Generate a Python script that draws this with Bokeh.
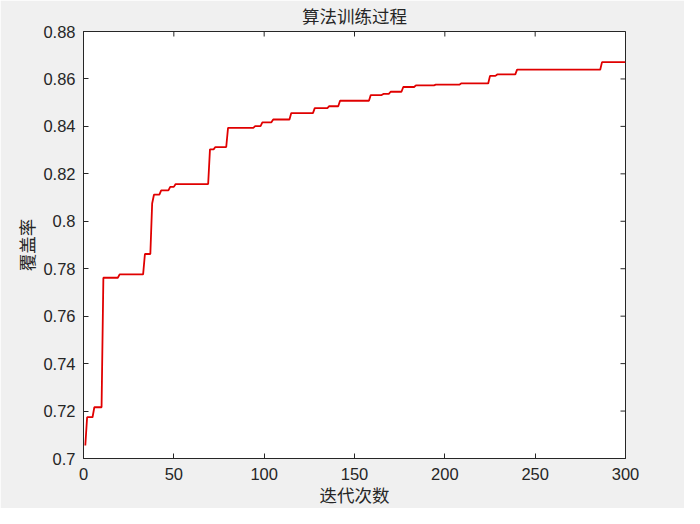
import math
from bokeh.plotting import figure
from bokeh.models import FixedTicker, Range1d, ColumnDataSource
from bokeh.embed import file_html
from bokeh.resources import INLINE

# ---- data ----
change_iters = [1, 2, 6, 11, 20, 34, 38, 39, 43, 48, 51, 70, 73, 80, 95, 99, 105,
                115, 128, 136, 142, 159, 166, 170, 177, 184, 195, 209, 225, 229,
                240, 287]
coverage = [0.7055, 0.7174, 0.7216, 0.7762, 0.7776, 0.7862, 0.8075, 0.8112, 0.8130,
            0.8145, 0.8157, 0.8303, 0.8313, 0.8394, 0.8401, 0.8417, 0.8429,
            0.8456, 0.8477, 0.8485, 0.8508, 0.8532, 0.8537, 0.8546, 0.8566,
            0.8573, 0.8576, 0.8581, 0.8613, 0.8619, 0.8639, 0.8671]
last_iter = 300

x_ticks = [0, 50, 100, 150, 200, 250, 300]
y_ticks = [0.70, 0.72, 0.74, 0.76, 0.78, 0.80, 0.82, 0.84, 0.86, 0.88]
y_tick_labels = ["0.7", "0.72", "0.74", "0.76", "0.78", "0.8", "0.82", "0.84", "0.86", "0.88"]

title_text = "算法训练过程"
x_label = "迭代次数"
y_label = "覆盖率"

X0, X1 = 0, 300
Y0, Y1 = 0.7, 0.88

# polyline vertices: each new value is reached one iteration after the previous one
xs, ys = [change_iters[0]], [coverage[0]]
for i in range(1, len(change_iters)):
    xs.append(change_iters[i] - 1)
    ys.append(coverage[i - 1])
    xs.append(change_iters[i])
    ys.append(coverage[i])
xs.append(last_iter)
ys.append(coverage[-1])
src = ColumnDataSource(dict(x=xs, y=ys))

TXT = "#262626"
CJK = "'Liberation Sans', 'Noto Sans CJK SC'"
NUM = "Liberation Sans"

p = figure(width=684, height=508, output_backend="svg", toolbar_location=None,
           x_range=Range1d(X0, X1), y_range=Range1d(Y0, Y1),
           min_border_left=83, min_border_right=59, min_border_top=31, min_border_bottom=50)
p.border_fill_color = "#f0f0f0"
p.background_fill_color = "white"
p.outline_line_color = TXT
p.outline_line_width = 1
p.grid.visible = False

p.title.text = title_text
p.title.align = "center"
p.title.text_font = CJK
p.title.text_font_size = "17.5px"
p.title.text_font_style = "normal"
p.title.text_color = TXT
p.title.standoff = 9

for ax in (p.xaxis[0], p.yaxis[0]):
    ax.major_tick_in = 5
    ax.major_tick_out = 0
    ax.minor_tick_in = 0
    ax.minor_tick_out = 0
    ax.axis_line_color = TXT
    ax.major_tick_line_color = TXT
    ax.major_label_text_font = NUM
    ax.major_label_text_font_size = "16.5px"
    ax.major_label_text_color = TXT
    ax.axis_label_text_font = CJK
    ax.axis_label_text_font_size = "17.5px"
    ax.axis_label_text_font_style = "normal"
    ax.axis_label_text_color = TXT

p.xaxis[0].ticker = FixedTicker(ticks=x_ticks)
p.xaxis[0].axis_label = x_label
p.xaxis[0].major_label_standoff = 9
p.xaxis[0].axis_label_standoff = 3

p.yaxis[0].ticker = FixedTicker(ticks=y_ticks)
p.yaxis[0].major_label_overrides = {t: l for t, l in zip(y_ticks, y_tick_labels)}
p.yaxis[0].axis_label = y_label
p.yaxis[0].major_label_standoff = 8
p.yaxis[0].axis_label_standoff = 2

# mirrored inward ticks on the top and right edges (box on)
p.scatter(x=x_ticks, y=[Y1] * len(x_ticks), marker="dash", angle=math.pi / 2,
          size=10, line_color=TXT, line_width=1)
p.scatter(x=[X1] * len(y_ticks), y=y_ticks, marker="dash", angle=0,
          size=10, line_color=TXT, line_width=1)

p.line("x", "y", source=src, line_color="#e00000", line_width=1.8)

open("out.html", "w").write(file_html(p, INLINE))
